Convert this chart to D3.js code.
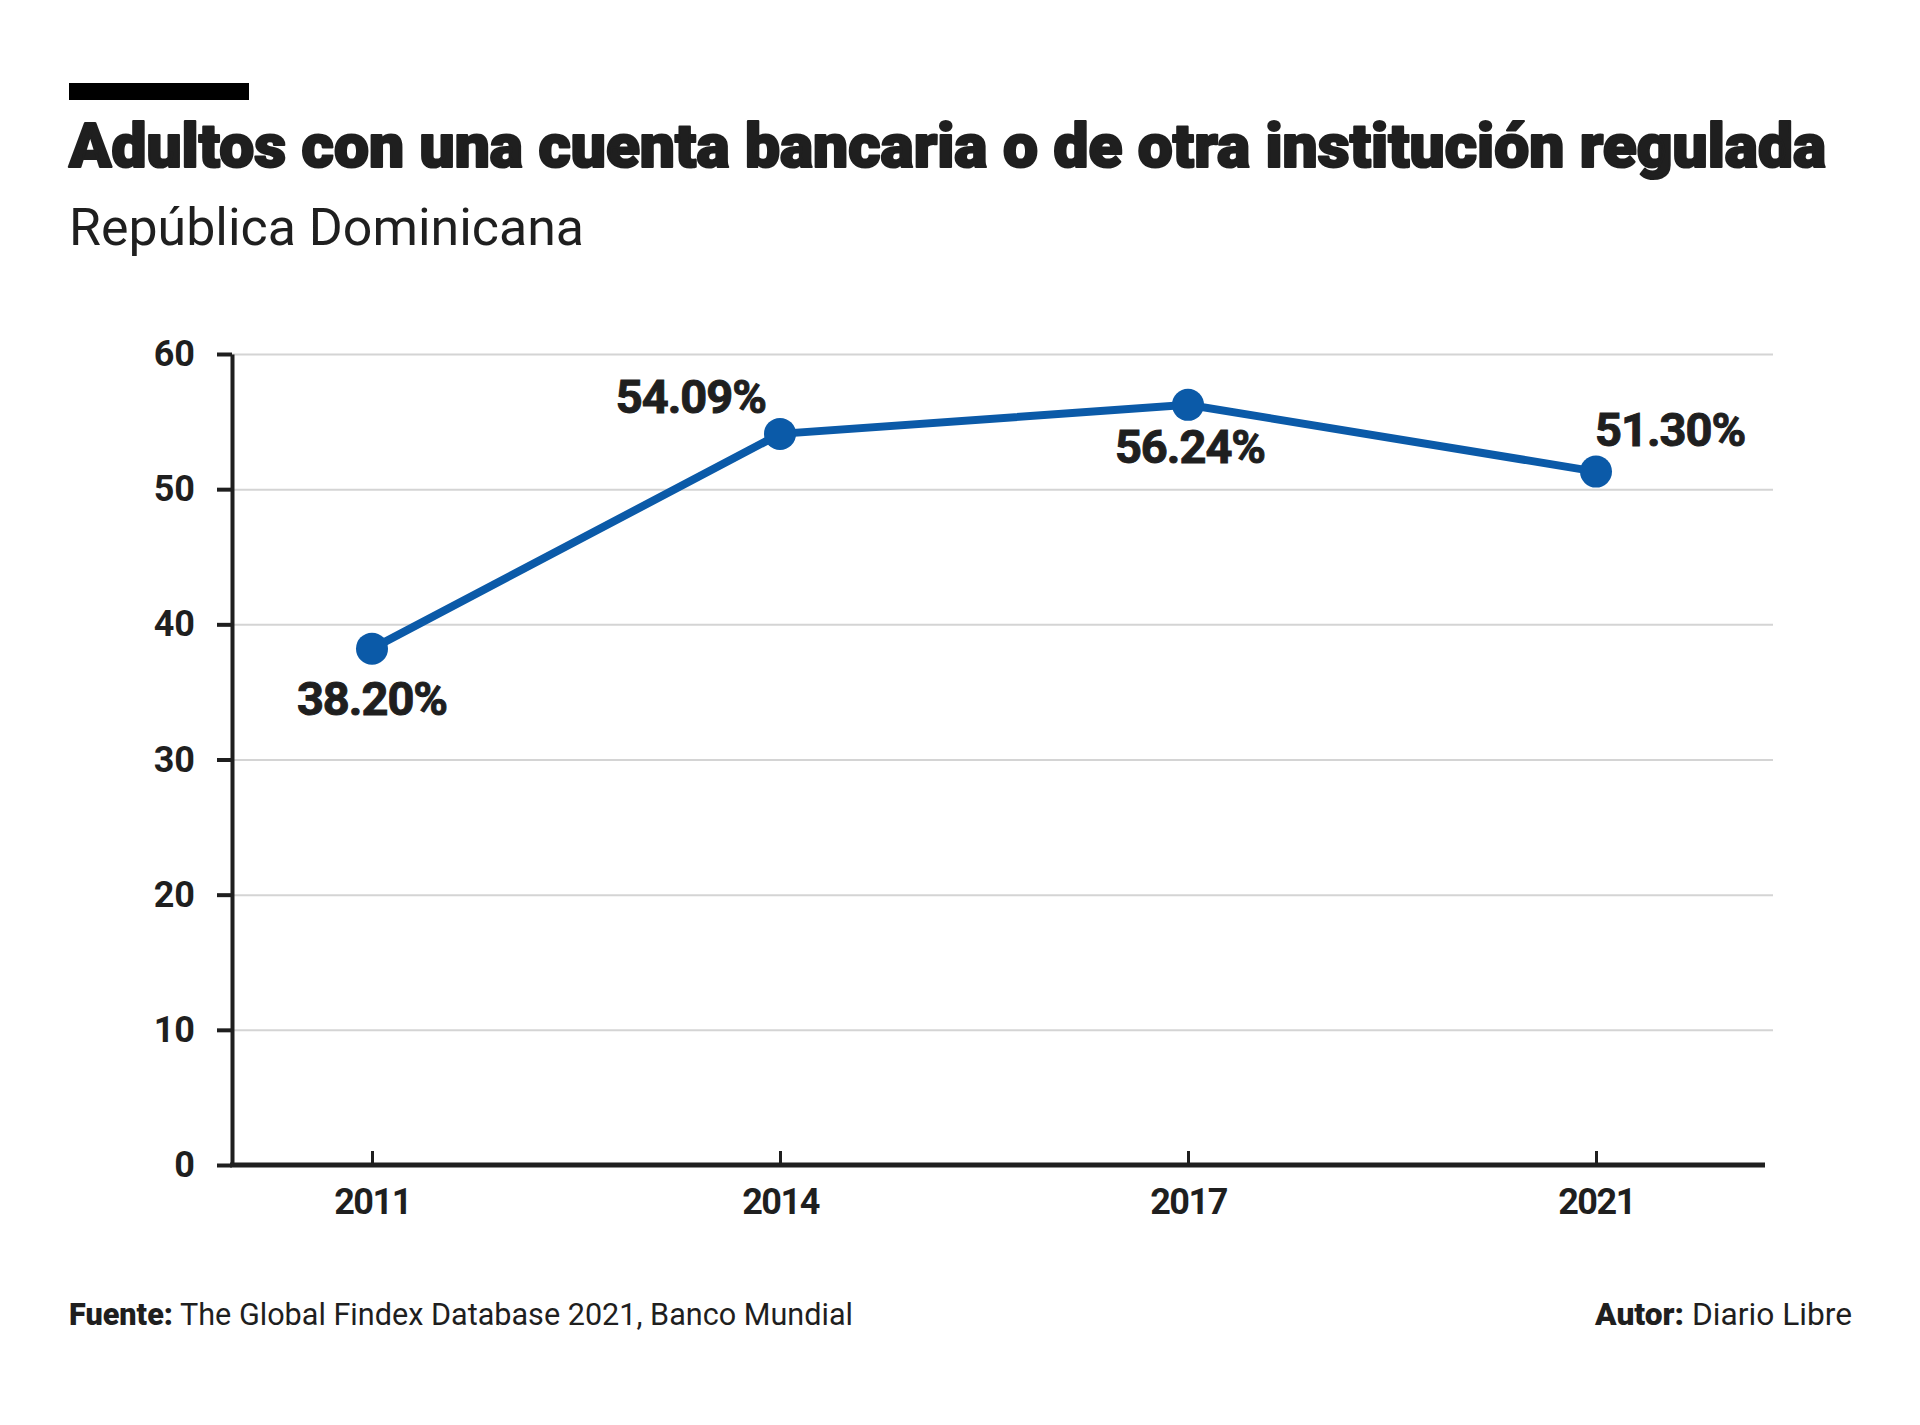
<!DOCTYPE html>
<html>
<head>
<meta charset="utf-8">
<script src="https://cdn.jsdelivr.net/npm/d3@7"></script>
<style>
  body { margin: 0; background: #fff; }
  text { font-family: Roboto, "Noto Sans", sans-serif; fill: #1f1f1f; }
</style>
</head>
<body>
<div id="chart"></div>
<script>
// data
const years = ['2011', '2014', '2017', '2021'];
const values = [38.20, 54.09, 56.24, 51.30];
const labels = ['38.20%', '54.09%', '56.24%', '51.30%'];
const yTicks = [0, 10, 20, 30, 40, 50, 60];

const W = 1920, H = 1425;
const svg = d3.select('#chart').append('svg').attr('width', W).attr('height', H);

// header
svg.append('rect').attr('x', 69).attr('y', 83).attr('width', 180).attr('height', 17).attr('fill', '#000');
svg.append('text')
    .attr('x', 69).attr('y', 167)
    .attr('font-size', 62).attr('font-weight', 900)
    .attr('stroke', '#1f1f1f').attr('stroke-width', 2.2).attr('stroke-linejoin', 'round')
    .attr('textLength', 1757).attr('lengthAdjust', 'spacingAndGlyphs')
    .text('Adultos con una cuenta bancaria o de otra institución regulada');
svg.append('text')
    .attr('x', 69).attr('y', 245)
    .attr('font-size', 52)
    .attr('textLength', 515).attr('lengthAdjust', 'spacingAndGlyphs')
    .text('República Dominicana');

// scales
const left = 232;
let x = d3.scalePoint().domain(years).range([372, 1596]);
let y = d3.scaleLinear().domain([0, 60]).range([1165, 354]);

// gridlines
svg.append('g')
    .attr('transform', 'translate(' + left + ',0)')
    .call(d3.axisLeft(y).tickValues(yTicks.filter(d => d > 0)).tickSize(-(1773 - left)).tickFormat(''))
    .call(g => g.select('.domain').remove())
    .selectAll('line').attr('stroke', '#d4d4d4').attr('stroke-width', 2);

// y axis
const yAxis = svg.append('g')
    .attr('transform', 'translate(' + left + ',0)')
    .call(d3.axisLeft(y).tickValues(yTicks).tickSize(15).tickSizeOuter(0).tickPadding(22));
yAxis.select('.domain').attr('stroke', '#1f1f1f').attr('stroke-width', 4);
yAxis.selectAll('.tick line').attr('stroke', '#1f1f1f').attr('stroke-width', 4);
yAxis.selectAll('.tick text').attr('font-size', 36).attr('font-weight', 700).attr('font-family', 'Roboto, sans-serif').attr('fill', '#1f1f1f');

// x axis
svg.append('line')
    .attr('x1', left - 2).attr('x2', 1765)
    .attr('y1', y(0)).attr('y2', y(0))
    .attr('stroke', '#1f1f1f').attr('stroke-width', 5);
const xAxis = svg.append('g')
    .attr('transform', 'translate(0,' + y(0) + ')')
    .call(d3.axisBottom(x).tickSize(-14).tickPadding(23));
xAxis.select('.domain').remove();
xAxis.selectAll('.tick line').attr('stroke', '#1f1f1f').attr('stroke-width', 3);
xAxis.selectAll('.tick text').attr('font-size', 36).attr('font-weight', 700).attr('font-family', 'Roboto, sans-serif').attr('fill', '#1f1f1f').attr('letter-spacing', -1.5);

// line + points
const blue = '#0b5aa8';
const pts = years.map((d, i) => ({ year: d, value: values[i], label: labels[i] }));
svg.append('path')
    .datum(pts)
    .attr('fill', 'none').attr('stroke', blue).attr('stroke-width', 8)
    .attr('d', d3.line().x(d => x(d.year)).y(d => y(d.value)));
svg.selectAll('circle.pt').data(pts).enter().append('circle')
    .attr('class', 'pt')
    .attr('cx', d => x(d.year)).attr('cy', d => y(d.value))
    .attr('r', 16).attr('fill', blue);

// value labels
const place = {
    '2011': { anchor: 'middle', dx: 0, dy: 66 },
    '2014': { anchor: 'end', dx: -14, dy: -21 },
    '2017': { anchor: 'middle', dx: 2, dy: 58 },
    '2021': { anchor: 'start', dx: -1, dy: -26 }
};
svg.selectAll('text.val').data(pts).enter().append('text')
    .attr('class', 'val')
    .attr('x', d => x(d.year) + place[d.year].dx)
    .attr('y', d => y(d.value) + place[d.year].dy)
    .attr('text-anchor', d => place[d.year].anchor)
    .attr('font-size', 47).attr('font-weight', 700).attr('letter-spacing', -1)
    .attr('stroke', '#1f1f1f').attr('stroke-width', 1)
    .text(d => d.label);

// footer
const src = svg.append('text').attr('x', 69).attr('y', 1325).attr('font-size', 32)
    .attr('textLength', 784).attr('lengthAdjust', 'spacingAndGlyphs');
src.append('tspan').attr('font-weight', 900).text('Fuente:');
src.append('tspan').text(' The Global Findex Database 2021, Banco Mundial');
const aut = svg.append('text').attr('x', 1595).attr('y', 1325).attr('font-size', 32)
    .attr('textLength', 257).attr('lengthAdjust', 'spacingAndGlyphs');
aut.append('tspan').attr('font-weight', 900).text('Autor:');
aut.append('tspan').text(' Diario Libre');
</script>
</body>
</html>
